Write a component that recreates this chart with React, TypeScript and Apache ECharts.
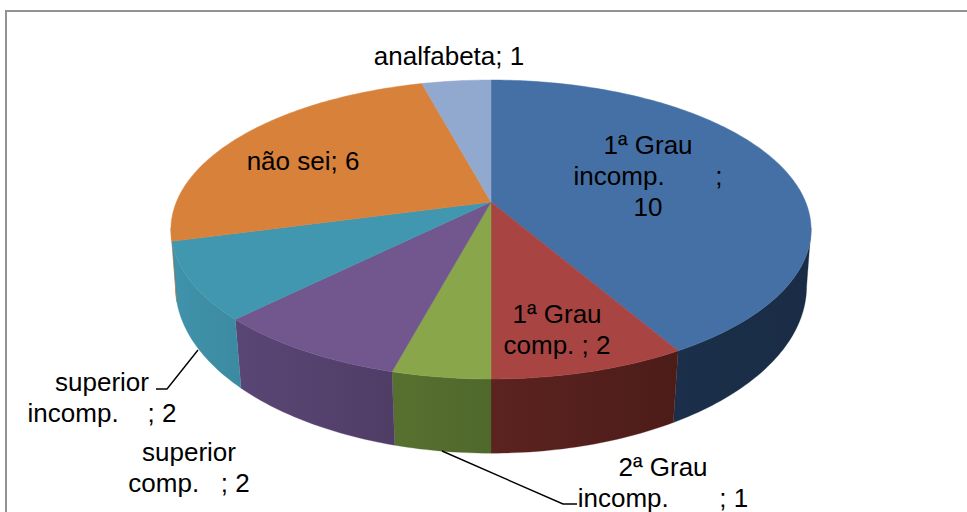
import React, { useEffect, useRef } from "react";
import * as echarts from "echarts";

const categories = ["1ª Grau incomp.", "1ª Grau comp.", "2ª Grau incomp.", "superior comp.", "superior incomp.", "não sei", "analfabeta"];
const values = [10, 2, 1, 2, 2, 6, 1];
const topColors = ["#4470A5", "#A84542", "#8AA64B", "#71578E", "#4197AF", "#D8813B", "#92A9CF"];
const sideColors = [
  ["#1B2F4A", "#1A2C45"],
  ["#5C2320", "#4C1C19"],
  ["#58702F", "#4F682C"],
  ["#5A4675", "#4F3D66"],
  ["#3F93AA", "#3C8AA2"],
  ["#A5622C", "#A5622C"],
  ["#6E80A0", "#6E80A0"],
];
const labelLines = [
  ["1ª Grau", "incomp.       ;", "10"],
  ["1ª Grau", "comp. ; 2"],
  ["2ª Grau", "incomp.       ; 1"],
  ["superior", "comp.   ; 2"],
  ["superior", "incomp.    ; 2"],
  ["não sei; 6"],
  ["analfabeta; 1"],
];
const labelCenters = [
  [648, 176],
  [557, 329],
  [663, 482],
  [189, 467],
  [102, 397],
  [303, 161],
  [449, 56],
];
const leaderLines = [
  [[442, 451], [563, 504], [577, 504]],
  [[198, 350], [167, 389], [156, 389]],
];

const CX = 491;
const total = values.reduce((a, b) => a + b, 0);
const topRim = { cy: 202, k: 144.4, p: 0.184, r: 314.6 };
const bottomRim = { cy: 258, k: 162, p: 0.17, r: 311 };
const SIDE_FROM = 100;
const SIDE_TO = 260;

function project(rim: typeof topRim, deg: number): number[] {
  const t = (deg * Math.PI) / 180;
  const w = 1 + rim.p * Math.cos(t);
  return [CX + (rim.r * Math.sin(t)) / w, rim.cy - (rim.k * Math.cos(t)) / w];
}

function arc(rim: typeof topRim, from: number, to: number): number[][] {
  const n = Math.max(2, Math.ceil(Math.abs(to - from)));
  const out: number[][] = [];
  for (let i = 0; i <= n; i++) out.push(project(rim, from + ((to - from) * i) / n));
  return out;
}

function sliceAngles(i: number): [number, number] {
  let before = 0;
  for (let j = 0; j < i; j++) before += values[j];
  return [(before / total) * 360, ((before + values[i]) / total) * 360];
}

function renderTop(params: any, api: any) {
  const i = params.dataIndex;
  const [a, b] = sliceAngles(i);
  return {
    type: "polygon",
    shape: { points: [[CX, topRim.cy], ...arc(topRim, a, b)] },
    style: { fill: topColors[i], stroke: topColors[i], lineWidth: 0.5 },
  };
}

function renderSide(params: any, api: any) {
  const i = params.dataIndex;
  const [a0, b0] = sliceAngles(i);
  const a = Math.max(a0, SIDE_FROM);
  const b = Math.min(b0, SIDE_TO);
  if (b <= a) return { type: "group", children: [] };
  const pts = [...arc(topRim, a, b), ...arc(bottomRim, b, a)];
  const [c0, c1] = sideColors[i];
  return {
    type: "polygon",
    shape: { points: pts },
    style: {
      fill: new echarts.graphic.LinearGradient(0, 0, 1, 0, [
        { offset: 0, color: c0 },
        { offset: 1, color: c1 },
      ]),
      stroke: c0,
      lineWidth: 0.3,
    },
  };
}

export default function App() {
  const ref = useRef<HTMLDivElement>(null);
  useEffect(() => {
    const chart = echarts.init(ref.current!, undefined, { renderer: "svg" });
    const data = categories.map((name, i) => ({ name, value: values[i] }));
    const FONT = "'Liberation Sans', Arial, sans-serif";
    chart.setOption({
      animation: false,
      backgroundColor: "#fff",
      series: [
        { type: "custom", coordinateSystem: "none", renderItem: renderSide, data, silent: true, z: 1 },
        { type: "custom", coordinateSystem: "none", renderItem: renderTop, data, silent: true, z: 2 },
      ],
      graphic: [
        {
          type: "polyline",
          z: 0,
          shape: { points: [[6, 512], [6, 11], [967, 11]] },
          style: { stroke: "#929292", lineWidth: 2, fill: "none" },
        },
        ...leaderLines.map((points) => ({
          type: "polyline",
          z: 5,
          shape: { points },
          style: { stroke: "#000", lineWidth: 1.4, fill: "none" },
        })),
        ...labelLines.map((lines, i) => ({
          type: "text",
          z: 6,
          x: labelCenters[i][0],
          y: labelCenters[i][1],
          style: {
            text: lines.join("\n"),
            font: `26px ${FONT}`,
            fill: "#000",
            align: "center",
            verticalAlign: "middle",
            lineHeight: 31,
          },
        })),
      ],
    });
    return () => chart.dispose();
  }, []);
  return <div ref={ref} style={{ position: "fixed", left: 0, top: 0, width: 967, height: 512 }} />;
}
